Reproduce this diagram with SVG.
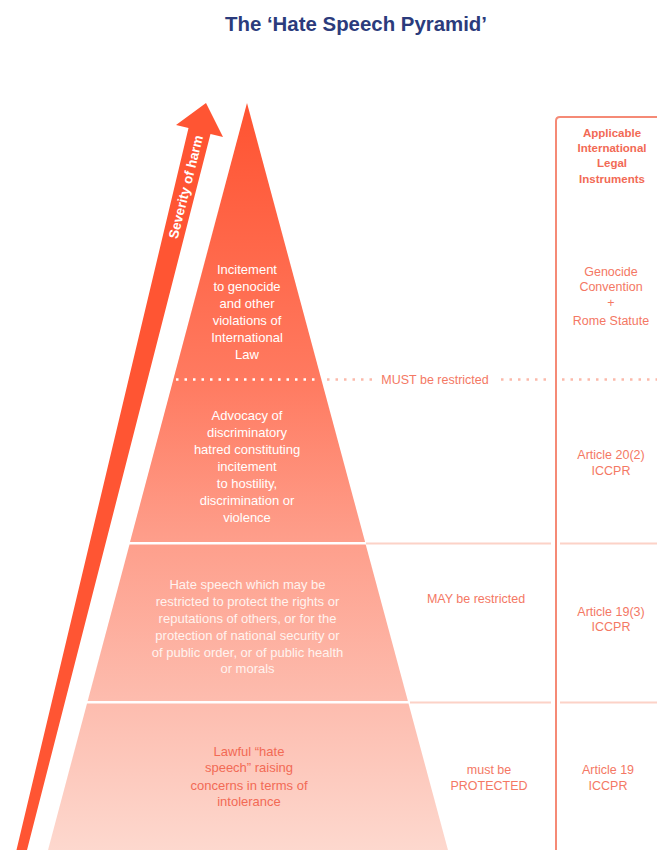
<svg xmlns="http://www.w3.org/2000/svg" width="657" height="850" viewBox="0 0 657 850">
<defs>
<linearGradient id="pg" gradientUnits="userSpaceOnUse" x1="0" y1="103" x2="0" y2="850">
<stop offset="0" stop-color="#ff5331"/>
<stop offset="0.37" stop-color="#ff7a60"/>
<stop offset="0.59" stop-color="#fe9f8c"/>
<stop offset="0.8" stop-color="#fdbcae"/>
<stop offset="1" stop-color="#fdd8ce"/>
</linearGradient>
<style>
.t{font-family:"Liberation Sans",Arial,sans-serif;font-size:13px;text-anchor:middle}
.w{fill:#ffffff}
.wl{fill:#fff3ef}
.s{fill:#f26a55}
.r{fill:#f47864;font-family:"Liberation Sans",Arial,sans-serif;font-size:12.5px;text-anchor:middle}
.h{fill:#f26a55;font-family:"Liberation Sans",Arial,sans-serif;font-size:11.5px;font-weight:bold;text-anchor:middle}
.tier{fill:url(#pg)}
.sep{stroke:#fcd2c7;stroke-width:2;fill:none}
.dots{stroke:#fbb9aa;stroke-width:2.5;stroke-dasharray:2.5 6;fill:none}
</style>
</defs>
<rect width="657" height="850" fill="#ffffff"/>
<text x="356" y="31" font-family="'Liberation Sans',Arial,sans-serif" font-size="21" font-weight="bold" fill="#2b3b7c" text-anchor="middle" textLength="262" lengthAdjust="spacingAndGlyphs">The ‘Hate Speech Pyramid’</text>

<g id="arrow">
<polygon points="16,852 188.5,128 176,125 206,103 223,137 210.5,134 26.5,852" fill="#ff5533"/>
<text x="0" y="0" transform="translate(186,187) rotate(-76)" dy="4.5" font-family="'Liberation Sans',Arial,sans-serif" font-size="13.5" font-weight="bold" fill="#ffffff" text-anchor="middle" textLength="106" lengthAdjust="spacingAndGlyphs">Severity of harm</text>
</g>

<g id="tier1">
<polygon class="tier" points="247,103 321.5,380 173.2,380"/>
<text class="t w"><tspan x="247" y="274">Incitement</tspan><tspan x="247" y="291">to genocide</tspan><tspan x="247" y="308">and other</tspan><tspan x="247" y="325">violations of</tspan><tspan x="247" y="342">International</tspan><tspan x="247" y="359">Law</tspan></text>
</g>

<g id="tier2">
<polygon class="tier" points="173.2,380 321.5,380 365.1,542 130,542"/>
<text class="t w"><tspan x="247" y="420">Advocacy of</tspan><tspan x="247" y="437">discriminatory</tspan><tspan x="247" y="454">hatred constituting</tspan><tspan x="247" y="471">incitement</tspan><tspan x="247" y="488">to hostility,</tspan><tspan x="247" y="505">discrimination or</tspan><tspan x="247" y="522">violence</tspan></text>
</g>

<g id="tier3">
<polygon class="tier" points="129.5,544.5 365.7,544.5 407.9,701 87.7,701"/>
<text class="t wl"><tspan x="247.5" y="589">Hate speech which may be</tspan><tspan x="247.5" y="606">restricted to protect the rights or</tspan><tspan x="247.5" y="623">reputations of others, or for the</tspan><tspan x="247.5" y="640">protection of national security or</tspan><tspan x="247.5" y="657">of public order, or of public health</tspan><tspan x="247.5" y="673">or morals</tspan></text>
</g>

<g id="tier4">
<polygon class="tier" points="87,703.5 408.5,703.5 448.5,852 47.5,852"/>
<text class="t s"><tspan x="249" y="756">Lawful “hate</tspan><tspan x="249" y="772">speech” raising</tspan><tspan x="249" y="790">concerns in terms of</tspan><tspan x="249" y="806">intolerance</tspan></text>
</g>

<g id="connectors">
<line x1="176" y1="379.5" x2="320" y2="379.5" stroke="#ffffff" stroke-width="2.5" stroke-dasharray="2.5 6"/>
<line x1="327" y1="379.5" x2="376" y2="379.5" class="dots"/>
<line x1="501" y1="379.5" x2="550" y2="379.5" class="dots"/>
<line x1="562" y1="379.5" x2="657" y2="379.5" class="dots"/>
<line x1="366" y1="543.5" x2="551" y2="543.5" class="sep"/>
<line x1="560" y1="543.5" x2="657" y2="543.5" class="sep"/>
<line x1="410" y1="702.5" x2="551" y2="702.5" class="sep"/>
<line x1="560" y1="702.5" x2="657" y2="702.5" class="sep"/>
<path d="M556,852 V121 Q556,117 560,117 H658" stroke="#f58a76" stroke-width="2" fill="none"/>
</g>

<g id="restrictions">
<text x="435" y="384" class="r" fill="#f47864">MUST be restricted</text>
<text x="476" y="603" class="r">MAY be restricted</text>
<text class="r"><tspan x="489" y="774">must be</tspan><tspan x="489" y="790">PROTECTED</tspan></text>
</g>

<g id="instruments">
<text class="h"><tspan x="612" y="137">Applicable</tspan><tspan x="612" y="152">International</tspan><tspan x="612" y="167">Legal</tspan><tspan x="612" y="183">Instruments</tspan></text>
<text class="r"><tspan x="611" y="276">Genocide</tspan><tspan x="611" y="291">Convention</tspan><tspan x="611" y="307">+</tspan><tspan x="611" y="325">Rome Statute</tspan></text>
<text class="r"><tspan x="611" y="459">Article 20(2)</tspan><tspan x="611" y="475">ICCPR</tspan></text>
<text class="r"><tspan x="611" y="616">Article 19(3)</tspan><tspan x="611" y="631">ICCPR</tspan></text>
<text class="r"><tspan x="608" y="774">Article 19</tspan><tspan x="608" y="790">ICCPR</tspan></text>
</g>
</svg>
